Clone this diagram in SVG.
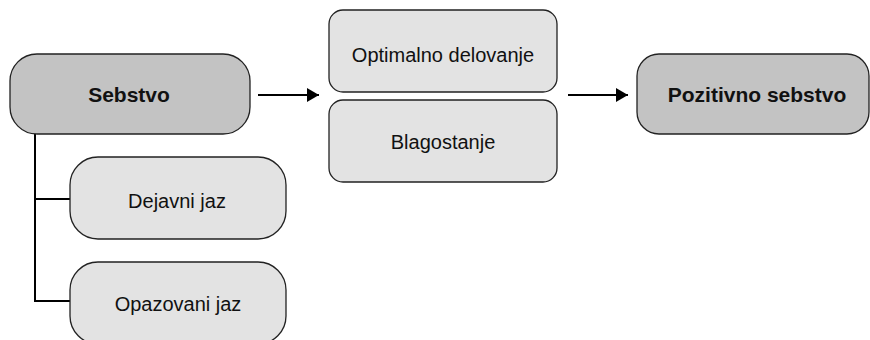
<svg xmlns="http://www.w3.org/2000/svg" width="870" height="340" viewBox="0 0 870 340">
  <defs>
    <style>
      .dark { fill: #c3c3c3; stroke: #222; stroke-width: 1.3; }
      .light { fill: #e3e3e3; stroke: #222; stroke-width: 1.3; }
      .lbl { font-family: "Liberation Sans", Arial, sans-serif; font-size: 20px; fill: #111; text-anchor: middle; }
      .bold { font-weight: bold; font-size: 21px; }
      .wire { fill: none; stroke: #000; stroke-width: 2; }
    </style>
    <marker id="arrow" viewBox="0 0 12 14" refX="12" refY="7" markerWidth="12" markerHeight="14" markerUnits="userSpaceOnUse" orient="auto">
      <path d="M0,0 L12,7 L0,14 Z" fill="#000"/>
    </marker>
  </defs>

  <rect width="870" height="340" fill="#fff"/>

  <g id="connectors">
    <path class="wire" d="M35,134 V301 H70"/>
    <path class="wire" d="M35,199 H70"/>
    <path class="wire" d="M258,95 H319" marker-end="url(#arrow)"/>
    <path class="wire" d="M568,95 H628" marker-end="url(#arrow)"/>
  </g>

  <g id="sebstvo">
    <rect class="dark" x="10" y="54" width="240" height="80" rx="27" ry="27"/>
    <text class="lbl bold" x="129" y="102">Sebstvo</text>
  </g>

  <g id="dejavni-jaz">
    <rect class="light" x="70" y="157" width="216" height="82" rx="28" ry="28"/>
    <text class="lbl" x="177" y="208">Dejavni jaz</text>
  </g>

  <g id="opazovani-jaz">
    <rect class="light" x="70" y="262" width="216" height="82" rx="28" ry="28"/>
    <text class="lbl" x="178" y="311">Opazovani jaz</text>
  </g>

  <g id="optimalno-delovanje">
    <rect class="light" x="329" y="10" width="228" height="82" rx="14" ry="14"/>
    <text class="lbl" x="443" y="62">Optimalno delovanje</text>
  </g>

  <g id="blagostanje">
    <rect class="light" x="329" y="100" width="228" height="82" rx="14" ry="14"/>
    <text class="lbl" x="443" y="149">Blagostanje</text>
  </g>

  <g id="pozitivno-sebstvo">
    <rect class="dark" x="637" y="54" width="232" height="80" rx="22" ry="22"/>
    <text class="lbl bold" x="757" y="102">Pozitivno sebstvo</text>
  </g>
</svg>
